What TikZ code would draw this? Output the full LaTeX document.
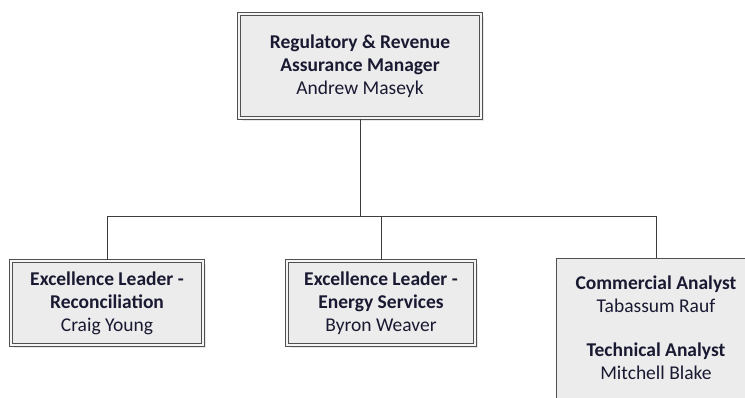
\documentclass[tikz,border=0pt]{standalone}
\usepackage{fontspec}
\setmainfont{Carlito}
\usetikzlibrary{shadows}
\definecolor{txt}{RGB}{25,25,50}
\definecolor{boxfill}{RGB}{236,236,236}
\definecolor{edge}{RGB}{80,80,80}
\definecolor{conn}{RGB}{60,60,60}
\begin{document}
\begin{tikzpicture}[x=1pt,y=-1pt,
  orgtext/.style={text=txt, align=center, font=\fontsize{19.5}{23}\selectfont},
  orgbox/.style={orgtext, draw=edge, line width=1.1pt, double=white!92!gray,
    double distance=1.8pt, fill=boxfill, inner sep=0pt,
    drop shadow={shadow xshift=3pt, shadow yshift=-3pt, fill=gray!35}},
  plainbox/.style={draw=edge, line width=1pt, fill=boxfill, inner sep=0pt},
  conline/.style={draw=conn, line width=1pt}]
\useasboundingbox (0,0) rectangle (745,398);
\node[orgbox, minimum width=242pt, minimum height=104pt] (top) at (360,66)
  {\textbf{Regulatory \& Revenue}\\\textbf{Assurance Manager}\\Andrew Maseyk};
\node[orgbox, minimum width=192pt, minimum height=84pt] (b1) at (107,303)
  {\textbf{Excellence Leader -}\\\textbf{Reconciliation}\\Craig Young};
\node[orgbox, minimum width=188pt, minimum height=84pt] (b2) at (381,303)
  {\textbf{Excellence Leader -}\\\textbf{Energy Services}\\Byron Weaver};
\node[plainbox, minimum width=200pt, minimum height=160pt, anchor=north] (b3) at (656,258.5) {};
\node[orgtext, anchor=north] (b3text) at (656,272)
  {\textbf{Commercial Analyst}\\Tabassum Rauf\\[21pt]\textbf{Technical Analyst}\\Mitchell Blake};
\coordinate (bus) at (360,217);
\draw[conline] (top.south) -- (bus);
\draw[conline] (b1.north) |- (bus);
\draw[conline] (b3.north) |- (bus);
\draw[conline] (b2.north) -- (b2.north |- bus);
\end{tikzpicture}
\end{document}
